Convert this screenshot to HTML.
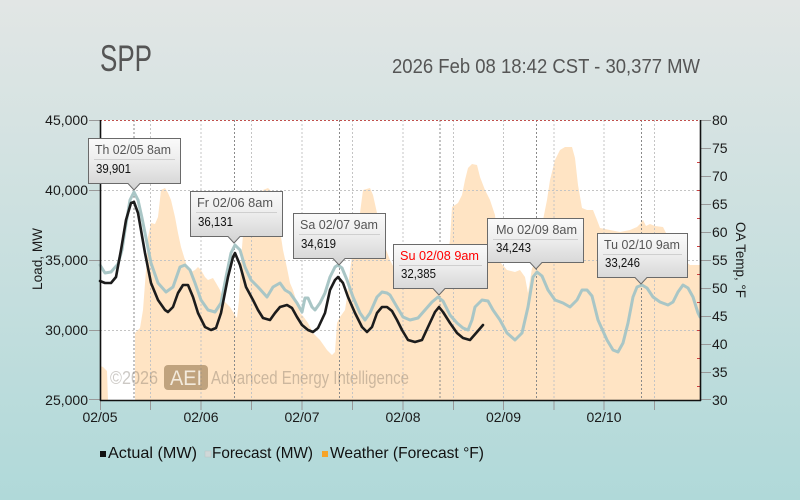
<!DOCTYPE html>
<html><head><meta charset="utf-8"><style>
html,body{margin:0;padding:0;width:800px;height:500px;overflow:hidden;}
svg{display:block;}
text{font-family:"Liberation Sans","DejaVu Sans",sans-serif;}
</style></head><body>
<svg width="800" height="500" viewBox="0 0 800 500" xmlns="http://www.w3.org/2000/svg">
<defs>
<linearGradient id="bg" x1="0" y1="0" x2="0" y2="1">
<stop offset="0" stop-color="#e2e6e5"/><stop offset="1" stop-color="#b0d9d9"/>
</linearGradient>
<linearGradient id="cb" x1="0" y1="0" x2="0" y2="1">
<stop offset="0" stop-color="#fafafa"/><stop offset="0.45" stop-color="#ececec"/><stop offset="1" stop-color="#d2d2d2"/>
</linearGradient>
</defs>
<rect x="0" y="0" width="800" height="500" fill="url(#bg)"/>
<!-- title -->
<text x="100" y="71" font-size="37" fill="#555" textLength="52" lengthAdjust="spacingAndGlyphs">SPP</text>
<text x="392" y="73" font-size="20" fill="#555" textLength="308" lengthAdjust="spacingAndGlyphs">2026 Feb 08 18:42 CST - 30,377 MW</text>
<!-- plot bg -->
<rect x="100" y="120" width="600" height="280" fill="#fff"/>
<!-- weather fill -->
<polygon fill="#ffe4c4" points="100,366 103,367 107,371 108,400 135,400 135,333 140,328 143,310 146,270 148,237 151,223 155,224 158,217 161,190 165,188 168,193 171,200 175,217 178,233 181,247 185,260 188,270 191,272 195,270 198,267 201,270 205,277 208,280 213,278 216,283 220,290 223,300 226,303 230,307 233,312 237,318 239,300 241,260 243,235 246,215 250,205 257,200 263,190 268,188 272,192 276,210 280,230 283,250 287,268 290,283 293,290 297,303 300,313 303,316 308,323 313,333 320,340 327,350 332,355 335,352 337,323 340,317 345,310 347,297 350,270 353,250 357,237 360,213 363,190 370,188 373,195 377,213 382,233 385,247 390,260 395,270 400,275 445,275 450,240 452,207 458,203 462,195 465,180 468,168 472,164 477,165 480,177 485,190 490,200 495,215 500,262 507,270 515,272 520,270 525,277 528,293 532,268 537,262 540,245 543,220 547,200 550,180 555,160 560,150 565,147 572,147 575,158 578,185 582,208 587,210 593,210 597,220 600,228 610,230 620,232 630,230 637,227 640,224 643,220 646,226 650,224 655,226 663,227 667,235 673,245 680,250 686,262 690,265 700,265 700,400 100,400"/>
<!-- grid -->
<g stroke="#c4c4c4" stroke-width="1" stroke-dasharray="2,2" fill="none">
<line x1="100" y1="190.5" x2="700" y2="190.5"/>
<line x1="100" y1="260.5" x2="700" y2="260.5"/>
<line x1="100" y1="330.5" x2="700" y2="330.5"/>
<line x1="150.5" y1="120" x2="150.5" y2="400"/>
<line x1="201" y1="120" x2="201" y2="400"/>
<line x1="251.5" y1="120" x2="251.5" y2="400"/>
<line x1="302" y1="120" x2="302" y2="400"/>
<line x1="352.5" y1="120" x2="352.5" y2="400"/>
<line x1="403" y1="120" x2="403" y2="400"/>
<line x1="453.5" y1="120" x2="453.5" y2="400"/>
<line x1="503.5" y1="120" x2="503.5" y2="400"/>
<line x1="554" y1="120" x2="554" y2="400"/>
<line x1="604" y1="120" x2="604" y2="400"/>
<line x1="654.5" y1="120" x2="654.5" y2="400"/>
</g>
<g stroke="#8a8a8a" stroke-width="1" stroke-dasharray="2,2" fill="none">
<line x1="134" y1="120" x2="134" y2="400"/>
<line x1="234.5" y1="120" x2="234.5" y2="400"/>
<line x1="339.5" y1="120" x2="339.5" y2="400"/>
<line x1="440" y1="120" x2="440" y2="400"/>
<line x1="536.5" y1="120" x2="536.5" y2="400"/>
<line x1="641.5" y1="120" x2="641.5" y2="400"/>
</g>
<line x1="100" y1="120.5" x2="700" y2="120.5" stroke="#c0504d" stroke-width="1" stroke-dasharray="2,2"/>
<!-- watermark -->
<g fill="rgba(110,100,90,0.35)">
<text x="110" y="384" font-size="18" textLength="48" lengthAdjust="spacingAndGlyphs">©2026</text>
<rect x="164" y="365" width="44" height="25" rx="4" fill="rgba(140,110,70,0.55)"/>
<text x="170" y="385" font-size="21" fill="#f3eadc" textLength="32" lengthAdjust="spacingAndGlyphs">AEI</text>
<text x="211" y="384" font-size="18" textLength="198" lengthAdjust="spacingAndGlyphs">Advanced Energy Intelligence</text>
</g>
<!-- forecast -->
<polyline fill="none" stroke="#a9c6c6" stroke-width="3" stroke-linejoin="round" stroke-linecap="round" points="100,265 105,273 111,272 118,264 122,250 125,230 130,200 134,192 138,200 142,218 145,233 151,263 158,283 166,292 173,287 180,267 185,265 190,270 195,283 201,300 208,310 215,312 221,303 226,277 231,253 235,245 240,250 245,267 251,280 258,287 267,297 273,287 280,283 285,290 290,293 297,303 302,312 305,298 308,298 312,307 315,310 320,303 325,293 330,277 335,267 338,265 342,268 347,280 353,297 360,313 365,320 370,313 377,297 382,292 387,293 390,295 397,307 403,317 410,320 418,318 425,310 432,302 438,297 443,301 450,315 457,323 463,328 468,330 472,320 475,307 482,300 488,301 493,310 500,320 507,333 515,340 522,333 528,307 533,277 537,272 542,276 548,290 555,300 563,303 570,307 577,300 582,290 587,290 592,296 598,320 607,340 613,350 618,352 623,343 628,323 633,297 637,287 642,285 647,288 653,297 660,302 668,305 673,302 678,292 683,285 688,288 693,297 698,313 700,317"/>
<!-- actual -->
<polyline fill="none" stroke="#1c1c1c" stroke-width="2.6" stroke-linejoin="round" stroke-linecap="round" points="100,281 105,283 111,283 116,277 121,250 126,220 131,203 134,202 138,213 145,253 151,283 158,300 165,310 168,312 173,307 178,293 183,285 188,285 193,297 198,313 205,327 211,330 216,328 221,313 228,277 233,257 235,253 240,265 246,287 253,300 258,310 263,318 270,320 275,313 280,307 287,305 292,308 297,317 302,325 308,330 313,332 318,328 325,313 330,290 335,280 338,277 343,283 348,297 355,313 362,327 367,332 372,327 377,313 382,307 387,307 392,311 397,320 402,330 408,340 415,342 422,340 428,327 435,312 439,307 443,312 450,323 457,333 463,338 470,340 477,332 483,325"/>
<!-- axes -->
<g stroke="#999" stroke-width="1">
<line x1="89" y1="120.5" x2="100" y2="120.5"/>
<line x1="89" y1="190.5" x2="100" y2="190.5"/>
<line x1="89" y1="260.5" x2="100" y2="260.5"/>
<line x1="89" y1="330.5" x2="100" y2="330.5"/>
<line x1="89" y1="399.5" x2="100" y2="399.5"/>
<line x1="700" y1="120.5" x2="711" y2="120.5"/>
<line x1="700" y1="148.5" x2="711" y2="148.5"/>
<line x1="700" y1="176.5" x2="711" y2="176.5"/>
<line x1="700" y1="204.5" x2="711" y2="204.5"/>
<line x1="700" y1="232.5" x2="711" y2="232.5"/>
<line x1="700" y1="260.5" x2="711" y2="260.5"/>
<line x1="700" y1="288.5" x2="711" y2="288.5"/>
<line x1="700" y1="316.5" x2="711" y2="316.5"/>
<line x1="700" y1="344.5" x2="711" y2="344.5"/>
<line x1="700" y1="372.5" x2="711" y2="372.5"/>
<line x1="700" y1="399.5" x2="711" y2="399.5"/>
<line x1="100.5" y1="400" x2="100.5" y2="410"/>
<line x1="150.5" y1="400" x2="150.5" y2="410"/>
<line x1="201" y1="400" x2="201" y2="410"/>
<line x1="251.5" y1="400" x2="251.5" y2="410"/>
<line x1="302" y1="400" x2="302" y2="410"/>
<line x1="352.5" y1="400" x2="352.5" y2="410"/>
<line x1="403" y1="400" x2="403" y2="410"/>
<line x1="453.5" y1="400" x2="453.5" y2="410"/>
<line x1="503.5" y1="400" x2="503.5" y2="410"/>
<line x1="554" y1="400" x2="554" y2="410"/>
<line x1="604" y1="400" x2="604" y2="410"/>
<line x1="654.5" y1="400" x2="654.5" y2="410"/>
</g>
<g stroke="#d04040" stroke-width="1">
<line x1="697" y1="162.5" x2="700" y2="162.5"/><line x1="697" y1="190.5" x2="700" y2="190.5"/>
<line x1="697" y1="218.5" x2="700" y2="218.5"/><line x1="697" y1="246.5" x2="700" y2="246.5"/>
<line x1="697" y1="274.5" x2="700" y2="274.5"/><line x1="697" y1="302.5" x2="700" y2="302.5"/>
<line x1="697" y1="330.5" x2="700" y2="330.5"/><line x1="697" y1="358.5" x2="700" y2="358.5"/>
<line x1="697" y1="386.5" x2="700" y2="386.5"/>
</g>
<g stroke="#111" stroke-width="1.6" fill="none">
<line x1="100.5" y1="120" x2="100.5" y2="401"/>
<line x1="100" y1="400.5" x2="701" y2="400.5"/>
<line x1="700.5" y1="120" x2="700.5" y2="401"/>
</g>
<!-- axis labels -->
<g font-size="14" fill="#1a1a1a" text-anchor="end">
<text x="88" y="125">45,000</text>
<text x="88" y="195">40,000</text>
<text x="88" y="265">35,000</text>
<text x="88" y="335">30,000</text>
<text x="88" y="405">25,000</text>
</g>
<g font-size="14" fill="#1a1a1a">
<text x="712" y="125">80</text>
<text x="712" y="153">75</text>
<text x="712" y="181">70</text>
<text x="712" y="209">65</text>
<text x="712" y="237">60</text>
<text x="712" y="265">55</text>
<text x="712" y="293">50</text>
<text x="712" y="321">45</text>
<text x="712" y="349">40</text>
<text x="712" y="377">35</text>
<text x="712" y="405">30</text>
</g>
<g font-size="14" fill="#1a1a1a" text-anchor="middle">
<text x="100" y="422">02/05</text>
<text x="201" y="422">02/06</text>
<text x="302" y="422">02/07</text>
<text x="403" y="422">02/08</text>
<text x="503.5" y="422">02/09</text>
<text x="604" y="422">02/10</text>
</g>
<text transform="translate(42,259) rotate(-90)" font-size="14" fill="#1a1a1a" text-anchor="middle" textLength="62" lengthAdjust="spacingAndGlyphs">Load, MW</text>
<text transform="translate(736,260) rotate(90)" font-size="14" fill="#1a1a1a" text-anchor="middle" textLength="76" lengthAdjust="spacingAndGlyphs">OA Temp, °F</text>
<!-- callouts -->
<g stroke="#6a6a6a" stroke-width="1" fill="url(#cb)">
<path d="M88.5,138.5 H180.5 V183.5 H140 L134,190 L128,183.5 H88.5 Z"/>
<path d="M190.5,191.5 H282.5 V236.5 H240 L234,243 L228,236.5 H190.5 Z"/>
<path d="M293.5,213.5 H385.5 V258.5 H345 L339,265 L333,258.5 H293.5 Z"/>
<path d="M393.5,244.5 H487.5 V288.5 H445 L439,295 L433,288.5 H393.5 Z"/>
<path d="M487.5,218.5 H583.5 V262.5 H542 L536,269 L530,262.5 H487.5 Z"/>
<path d="M597.5,233.5 H687.5 V277.5 H647 L641,284 L635,277.5 H597.5 Z"/>
</g>
<g stroke="#cfcfcf" stroke-width="1">
<line x1="94" y1="159.5" x2="175" y2="159.5"/>
<line x1="196" y1="212.5" x2="277" y2="212.5"/>
<line x1="299" y1="234.5" x2="380" y2="234.5"/>
<line x1="399" y1="265.5" x2="482" y2="265.5"/>
<line x1="493" y1="239.5" x2="578" y2="239.5"/>
<line x1="603" y1="254.5" x2="682" y2="254.5"/>
</g>
<g font-size="13" fill="#555">
<text x="95" y="154" textLength="76" lengthAdjust="spacingAndGlyphs">Th 02/05 8am</text>
<text x="197" y="207" textLength="76" lengthAdjust="spacingAndGlyphs">Fr 02/06 8am</text>
<text x="300" y="229" textLength="78" lengthAdjust="spacingAndGlyphs">Sa 02/07 9am</text>
<text x="400" y="260" textLength="79" lengthAdjust="spacingAndGlyphs" fill="#ff0000">Su 02/08 9am</text>
<text x="496" y="234" textLength="81" lengthAdjust="spacingAndGlyphs">Mo 02/09 8am</text>
<text x="604" y="249" textLength="76" lengthAdjust="spacingAndGlyphs">Tu 02/10 9am</text>
</g>
<g font-size="13" fill="#111">
<text x="96" y="173" textLength="35" lengthAdjust="spacingAndGlyphs">39,901</text>
<text x="198" y="226" textLength="35" lengthAdjust="spacingAndGlyphs">36,131</text>
<text x="301" y="248" textLength="35" lengthAdjust="spacingAndGlyphs">34,619</text>
<text x="401" y="278" textLength="35" lengthAdjust="spacingAndGlyphs">32,385</text>
<text x="496" y="252" textLength="35" lengthAdjust="spacingAndGlyphs">34,243</text>
<text x="605" y="267" textLength="35" lengthAdjust="spacingAndGlyphs">33,246</text>
</g>
<!-- legend -->
<rect x="100" y="451" width="6" height="6" fill="#111"/>
<text x="108" y="458" font-size="16" fill="#111" textLength="89" lengthAdjust="spacingAndGlyphs">Actual (MW)</text>
<rect x="205" y="451" width="6" height="6" fill="#d0d8d8" stroke="#b8c4c4" stroke-width="0.5"/>
<text x="212" y="458" font-size="16" fill="#111" textLength="101" lengthAdjust="spacingAndGlyphs">Forecast (MW)</text>
<rect x="322" y="451" width="6" height="6" fill="#f7a428"/>
<text x="330" y="458" font-size="16" fill="#111" textLength="154" lengthAdjust="spacingAndGlyphs">Weather (Forecast °F)</text>
</svg>
</body></html>
